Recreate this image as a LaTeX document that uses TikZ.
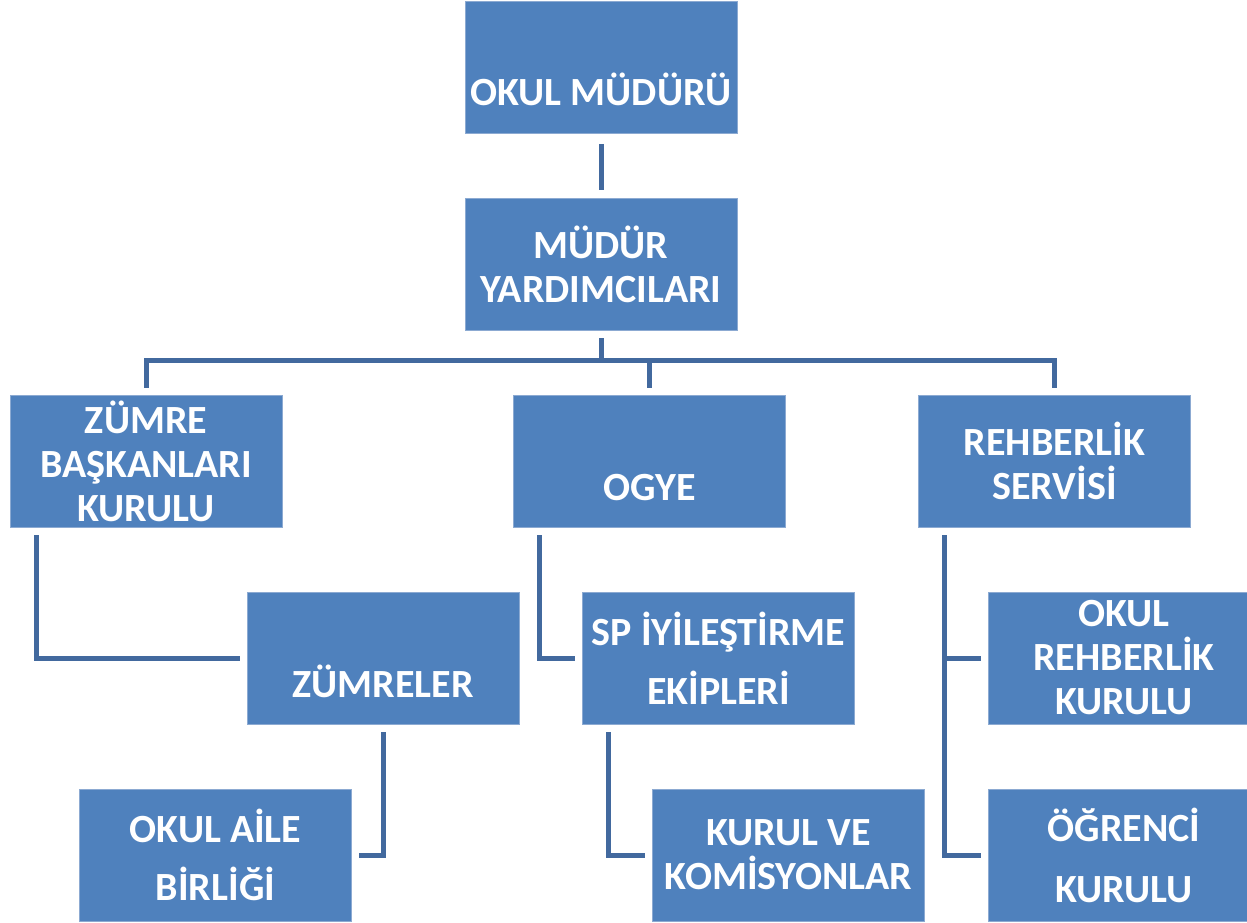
\documentclass[tikz,border=0pt]{standalone}
\usepackage{fontspec}
\setmainfont{Carlito}
\definecolor{boxblue}{RGB}{79,129,189}
\definecolor{edgeblue}{RGB}{140,170,210}
\definecolor{lineblue}{RGB}{66,105,158}
\tikzset{
  box/.style={draw=edgeblue, line width=0.8pt, fill=boxblue, minimum width=272pt, minimum height=132pt, inner sep=0pt, text=white, font=\fontsize{40}{44}\selectfont\bfseries, align=center},
  txt/.style={text=white, font=\fontsize{40}{44}\selectfont\bfseries, anchor=base, inner sep=0pt},
  conn/.style={draw=lineblue, line width=5pt}
}

\begin{document}
\begin{tikzpicture}[x=1pt,y=1pt]
\useasboundingbox (0,0) rectangle (1247,-923);

% top two levels
\node[box] (okul) at (601,-67.5) {};
\node[txt] (okul-t) at ([yshift=-38.5pt]okul.center) {OKUL MÜDÜRÜ};
\node[box] (mudur) at (601,-264) {MÜDÜR\\YARDIMCILARI};

% third row
\node[box] (zumbas) at (146,-461) {ZÜMRE\\BAŞKANLARI\\KURULU};
\node[box] (ogye) at (649.5,-461) {};
\node[txt] (ogye-t) at ([yshift=-39.5pt]ogye.center) {OGYE};
\node[box] (rehber) at (1054.5,-461) {REHBERLİK\\SERVİSİ};

% fourth row
\node[box] (zumreler) at (383,-658) {};
\node[txt] (zumreler-t) at ([yshift=-39.5pt]zumreler.center) {ZÜMRELER};
\node[box] (sp) at (718.5,-658) {SP İYİLEŞTİRME\\[15pt]EKİPLERİ};
\node[box] (okrehber) at (1124,-658) {OKUL\\REHBERLİK\\KURULU};

% bottom row
\node[box] (aile) at (215.5,-855) {OKUL AİLE\\[14pt]BİRLİĞİ};
\node[box] (kurul) at (788.5,-855) {KURUL VE\\KOMİSYONLAR};
\node[box] (ogrenci) at (1124,-855) {ÖĞRENCİ\\[17pt]KURULU};

% connectors
\draw[conn, shorten <=10pt, shorten >=8pt] (okul) -- (mudur);
\coordinate (bus) at ([yshift=-30pt]mudur.south);
\draw[conn, shorten <=8pt] (mudur.south) -- (bus);
\draw[conn, shorten >=7pt] (bus) -| (zumbas.north);
\draw[conn, shorten >=7pt] (bus) -| (ogye.north);
\draw[conn, shorten >=7pt] (bus) -| (rehber.north);

\draw[conn, shorten <=8pt, shorten >=7pt] ([xshift=27pt]zumbas.south west) |- (zumreler.west);
\draw[conn, shorten <=8pt, shorten >=7pt] (zumreler.south) |- (aile.east);
\draw[conn, shorten <=8pt, shorten >=7pt] ([xshift=26pt]ogye.south west) |- (sp.west);
\draw[conn, shorten <=8pt, shorten >=7pt] ([xshift=26pt]sp.south west) |- (kurul.west);
\draw[conn, shorten <=8pt, shorten >=7pt] ([xshift=26pt]rehber.south west) |- (ogrenci.west);
\draw[conn, shorten >=7pt] ([xshift=26pt]rehber.south west |- okrehber.west) -- (okrehber.west);
\end{tikzpicture}
\end{document}
